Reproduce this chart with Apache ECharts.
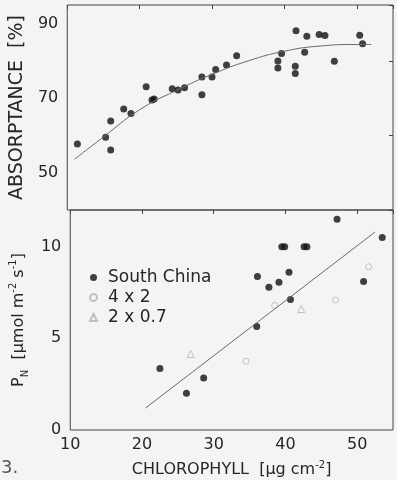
<!DOCTYPE html>
<html>
<head>
<meta charset="utf-8">
<script src="https://cdn.jsdelivr.net/npm/echarts@6/dist/echarts.min.js"></script>
<style>
html,body{margin:0;padding:0;background:#f4f4f2;}
#chart{width:397px;height:480px;}
</style>
</head>
<body>
<div id="chart"></div>
<script>
// ---- Top panel: absorptance vs chlorophyll ----
var absChl = [11.4,15.3,16.0,16.0,17.8,18.8,20.9,21.7,22.0,24.5,25.3,26.2,28.6,28.6,30.0,30.5,32.0,33.4,39.1,39.1,39.6,41.6,41.5,41.5,42.8,43.1,44.8,45.6,46.9,50.4,50.8];
var absVal = [57.7,59.5,56.1,63.9,67.1,65.9,73.1,69.5,69.8,72.5,72.2,72.8,75.7,70.9,75.7,77.7,78.9,81.4,80.0,78.1,82.0,88.1,78.6,76.6,82.3,86.6,87.1,86.8,79.9,86.9,84.6];
var absCurveChl = [11,15,20,25,30,35,40,45,50,52];
var absCurveVal = [53.6,59.6,66.9,72.0,76.4,80.0,82.6,84.0,84.4,84.4];
var absTicks = [50,70,90];

// ---- Bottom panel: net photosynthesis vs chlorophyll ----
var scChl = [22.5,26.2,28.6,36.1,36.0,37.7,39.1,39.5,39.9,40.5,40.7,42.6,43.0,47.2,50.9,53.5];
var scPn  = [3.35,2.0,2.84,8.37,5.65,7.79,8.06,10.0,10.0,8.6,7.12,10.0,10.0,11.5,8.1,10.5];
var c42Chl = [34.5,38.5,47.0,51.6];
var c42Pn  = [3.75,6.8,7.1,8.9];
var c207Chl = [26.8,42.2];
var c207Pn  = [4.15,6.6];
var pnLineChl = [20.5,52.5];
var pnLineVal = [1.2,10.8];
var pnTicks = [0,5,10];
var chlTicks = [10,20,30,40,50];

var seriesNames = ['South China','4 x 2','2 x 0.7'];

function zip(a,b){return a.map(function(v,i){return [v,b[i]];});}

var FONT = 'DejaVu Sans';
var TXT = '#262626';
var AX = '#444';

var chart = echarts.init(document.getElementById('chart'), null, {renderer:'canvas'});
var option = {
  backgroundColor: '#f4f4f2',
  animation: false,
  grid: [
    {left:63, right:4, top:5, height:205, show:true, borderColor:AX, borderWidth:1, backgroundColor:'transparent'},
    {left:63, right:4, top:210, height:220, show:true, borderColor:AX, borderWidth:1, backgroundColor:'transparent'}
  ],
  xAxis: [
    {gridIndex:0, type:'value', position:'top', min:10, max:55, interval:10,
     axisLine:{show:false}, axisTick:{show:true, inside:true, length:4, lineStyle:{color:AX}},
     axisLabel:{show:false}, splitLine:{show:false}},
    {gridIndex:1, type:'value', position:'bottom', min:10, max:55, interval:10,
     axisLine:{show:false}, axisTick:{show:false}, splitLine:{show:false},
     axisLabel:{show:true, showMaxLabel:false, margin:7, fontFamily:FONT, fontSize:16, color:TXT,
       formatter:function(v){return chlTicks.indexOf(v)>=0 ? String(v) : '';}},
     name:'{t|CHLOROPHYLL  [μg cm}{sup|-2}{t|]}', nameLocation:'middle', nameGap:30,
     nameTextStyle:{fontFamily:FONT, fontSize:16, color:TXT,
       rich:{t:{fontFamily:FONT, fontSize:16, color:TXT, lineHeight:20},
             sup:{fontFamily:FONT, fontSize:10, color:TXT, verticalAlign:'top'}}}},
    {gridIndex:1, type:'value', position:'top', min:10, max:55, interval:10,
     axisLine:{show:false}, axisTick:{show:true, inside:true, length:4, lineStyle:{color:AX}},
     axisLabel:{show:false}, splitLine:{show:false}}
  ],
  yAxis: [
    {gridIndex:0, type:'value', min:40, max:95, interval:10,
     axisLine:{show:false}, axisTick:{show:false}, splitLine:{show:false},
     axisLabel:{show:true, margin:9, fontFamily:FONT, fontSize:16, color:TXT, showMaxLabel:false,
       formatter:function(v){return absTicks.indexOf(v)>=0 ? String(v) : '';}},
     name:'ABSORPTANCE  [%]', nameLocation:'middle', nameGap:36,
     nameTextStyle:{fontFamily:FONT, fontSize:19, color:TXT}},
    {gridIndex:0, type:'value', position:'right', min:40, max:95, interval:20,
     axisLine:{show:false}, axisTick:{show:true, inside:true, length:4, lineStyle:{color:AX}},
     axisLabel:{show:false}, splitLine:{show:false}},
    {gridIndex:1, type:'value', min:0, max:12, interval:5,
     axisLine:{show:false}, axisTick:{show:false}, splitLine:{show:false},
     axisLabel:{show:true, margin:9, fontFamily:FONT, fontSize:16, color:TXT, showMaxLabel:false,
       formatter:function(v){return pnTicks.indexOf(v)>=0 ? String(v) : '';}},
     name:'{t|P}{sub|N}{t|  [μmol m}{sup|-2}{t| s}{sup|-1}{t|]}', nameLocation:'middle', nameGap:36,
     nameTextStyle:{fontFamily:FONT, fontSize:16, color:TXT,
       rich:{t:{fontFamily:FONT, fontSize:16, color:TXT, lineHeight:22},
             sub:{fontFamily:FONT, fontSize:10, color:TXT, verticalAlign:'bottom'},
             sup:{fontFamily:FONT, fontSize:10, color:TXT, verticalAlign:'top'}}}}
  ],
  legend: {
    orient:'vertical', left:84, top:264, itemGap:3, itemWidth:7, itemHeight:7,
    textStyle:{fontFamily:FONT, fontSize:17, color:TXT, padding:[0,0,0,6]},
    data:[{name:seriesNames[0]},{name:seriesNames[1]},{name:seriesNames[2]}]
  },
  series: [
    {type:'line', xAxisIndex:0, yAxisIndex:0, data:zip(absCurveChl,absCurveVal), smooth:true,
     showSymbol:false, lineStyle:{color:'#6a6a6a', width:1}, silent:true},
    {type:'scatter', xAxisIndex:0, yAxisIndex:0, data:zip(absChl,absVal), symbol:'circle', symbolSize:7,
     itemStyle:{color:'#111'}},
    {type:'line', xAxisIndex:1, yAxisIndex:2, data:zip(pnLineChl,pnLineVal),
     showSymbol:false, lineStyle:{color:'#6a6a6a', width:1}, silent:true},
    {name:seriesNames[0], type:'scatter', xAxisIndex:1, yAxisIndex:2, data:zip(scChl,scPn),
     symbol:'circle', symbolSize:7, itemStyle:{color:'#111'}},
    {name:seriesNames[1], type:'scatter', xAxisIndex:1, yAxisIndex:2, data:zip(c42Chl,c42Pn),
     symbol:'circle', symbolSize:6, itemStyle:{color:'rgba(0,0,0,0)', borderColor:'#b4b4b4', borderWidth:1}},
    {name:seriesNames[2], type:'scatter', xAxisIndex:1, yAxisIndex:2, data:zip(c207Chl,c207Pn),
     symbol:'triangle', symbolSize:7, itemStyle:{color:'rgba(0,0,0,0)', borderColor:'#b4b4b4', borderWidth:1}}
  ],
  graphic: [
    {type:'text', left:1, top:459, style:{text:'3.', fontFamily:FONT, fontSize:18, fill:'#555'}}
  ]
};
chart.setOption(option);
</script>
</body>
</html>
